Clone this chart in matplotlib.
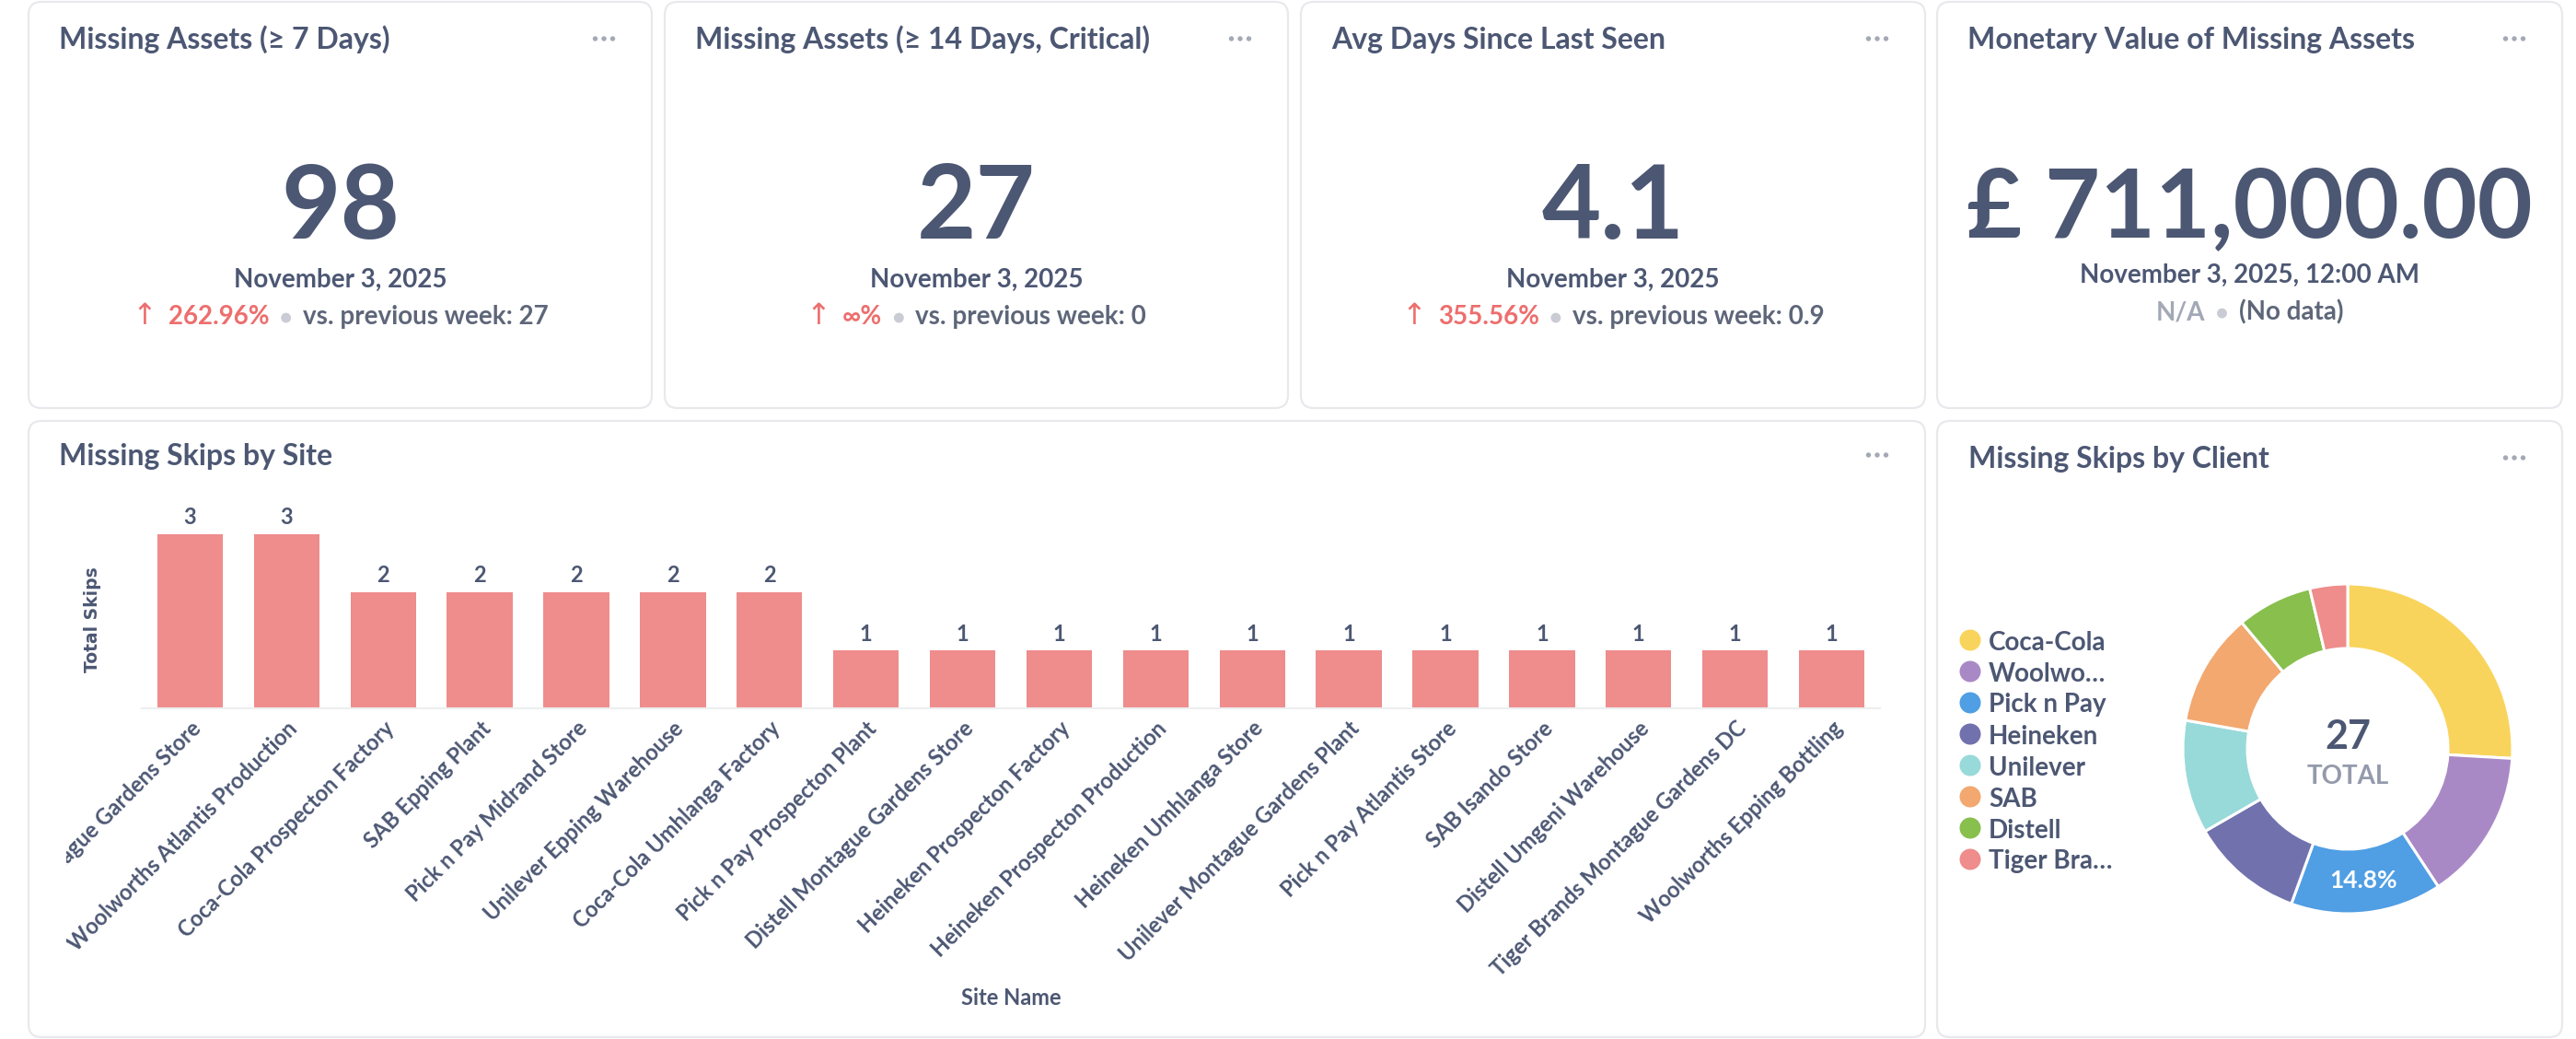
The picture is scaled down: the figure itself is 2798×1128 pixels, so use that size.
import matplotlib
matplotlib.use("Agg")
import matplotlib.pyplot as plt
from matplotlib.patches import FancyBboxPatch, Circle
from matplotlib.offsetbox import TextArea, HPacker, AnnotationBbox, DrawingArea
from matplotlib.transforms import ScaledTranslation, Bbox, TransformedBbox, IdentityTransform
import numpy as np

plt.rcParams['font.family'] = ['Lato', 'DejaVu Sans']

# ---------------- data ----------------
kpi_titles = ["Missing Assets (≥ 7 Days)", "Missing Assets (≥ 14 Days, Critical)",
              "Avg Days Since Last Seen", "Monetary Value of Missing Assets"]
kpi_values = ["98", "27", "4.1", "£ 711,000.00"]
kpi_dates = ["November 3, 2025", "November 3, 2025", "November 3, 2025",
             "November 3, 2025, 12:00 AM"]
kpi_changes = ["262.96%", "∞%", "355.56%", "N/A"]
kpi_previous = ["vs. previous week: 27", "vs. previous week: 0",
                "vs. previous week: 0.9", "(No data)"]

sites = ["Coca-Cola Montague Gardens Store", "Woolworths Atlantis Production",
         "Coca-Cola Prospecton Factory", "SAB Epping Plant", "Pick n Pay Midrand Store",
         "Unilever Epping Warehouse", "Coca-Cola Umhlanga Factory",
         "Pick n Pay Prospecton Plant", "Distell Montague Gardens Store",
         "Heineken Prospecton Factory", "Heineken Prospecton Production",
         "Heineken Umhlanga Store", "Unilever Montague Gardens Plant",
         "Pick n Pay Atlantis Store", "SAB Isando Store", "Distell Umgeni Warehouse",
         "Tiger Brands Montague Gardens DC", "Woolworths Epping Bottling"]
site_skips = [3, 3, 2, 2, 2, 2, 2, 1, 1, 1, 1, 1, 1, 1, 1, 1, 1, 1]

clients = ["Coca-Cola", "Woolworths", "Pick n Pay", "Heineken", "Unilever",
           "SAB", "Distell", "Tiger Brands"]
client_legend = ["Coca-Cola", "Woolwo…", "Pick n Pay", "Heineken", "Unilever",
                 "SAB", "Distell", "Tiger Bra…"]
client_skips = [7, 4, 4, 3, 3, 3, 2, 1]

# ---------------- style ----------------
W, H, DPI = 2798, 1128, 100
DARK = "#4C5773"
MED = "#5E6679"
LIGHT = "#949AAB"
RED = "#ED6E6E"
DOTC = "#C9CCD4"
BORDER = "#E8E9EC"
BAR = "#EF8C8C"
client_colors = ["#F9D45C", "#A989C5", "#509EE3", "#7172AD", "#98D9D9",
                 "#F2A86F", "#88BF4D", "#EF8C8C"]

fig = plt.figure(figsize=(W / DPI, H / DPI), dpi=DPI, facecolor="white")
bg = fig.add_axes([0, 0, 1, 1], zorder=0)
bg.set_xlim(0, W)
bg.set_ylim(H, 0)
bg.axis("off")


def card(x0, y0, x1, y1):
    bg.add_patch(FancyBboxPatch((x0, y0), x1 - x0, y1 - y0,
                                boxstyle="round,pad=0,rounding_size=14",
                                fc="white", ec=BORDER, lw=1.6))


def dots(xr, y):
    for dx in (-9.5, 0, 9.5):
        bg.add_patch(Circle((xr + dx, y), 2.7, color="#A4A9B6", lw=0))


top_left = [31, 722, 1413, 2104]
top_right = [708, 1399, 2091, 2783]
value_sizes = [80, 80, 80, 74.5]
for i in range(4):
    x0, x1 = top_left[i], top_right[i]
    card(x0, 2, x1, 443)
    bg.text(x0 + 33, 53, kpi_titles[i], fontsize=23, fontweight="bold",
            color=DARK, va="baseline", ha="left")
    dots(x1 - 52, 42)
    cx = (x0 + x1) / 2
    bg.text(cx, 257 if i == 3 else 259, kpi_values[i], fontsize=value_sizes[i],
            fontweight="bold", color=DARK, ha="center", va="baseline")
    dy = 307 if i == 3 else 312
    bg.text(cx, dy, kpi_dates[i], fontsize=20, fontweight="bold",
            color=DARK, ha="center", va="baseline")
    cy = 346 if i == 3 else 351
    kids = []
    if i < 3:
        kids.append(TextArea("↑", textprops=dict(color=RED, fontsize=23,
                                                  family=["DejaVu Sans"])))
        kids.append(TextArea(kpi_changes[i], textprops=dict(color=RED, fontsize=20,
                                                             fontweight="bold")))
    else:
        kids.append(TextArea(kpi_changes[i], textprops=dict(color="#A3A8B6", fontsize=20,
                                                             fontweight="bold")))
    da = DrawingArea(8, 9, 0, 0)
    da.add_artist(Circle((4, 5), 3.9, color=DOTC, lw=0))
    kids.append(da)
    kids.append(TextArea(kpi_previous[i], textprops=dict(color=MED, fontsize=20,
                                                          fontweight="bold")))
    hp = HPacker(children=kids, align="baseline", pad=0, sep=9)
    ab = AnnotationBbox(hp, (cx, cy - 7.5), xycoords=bg.transData,
                        box_alignment=(0.5, 0.5), frameon=False, pad=0)
    bg.add_artist(ab)

# bottom cards
card(31, 457, 2091, 1126)
card(2104, 457, 2783, 1126)
bg.text(64, 505, "Missing Skips by Site", fontsize=23, fontweight="bold",
        color=DARK, va="baseline")
dots(2091 - 52, 494)
bg.text(2138, 508, "Missing Skips by Client", fontsize=23, fontweight="bold",
        color=DARK, va="baseline")
dots(2783 - 52, 497)

# ---------------- bar chart ----------------
ax = fig.add_axes([154 / W, (H - 769) / H, 1888 / W, 221 / H], zorder=2)
ax.patch.set_alpha(0)
x = np.arange(len(sites))
bars = ax.bar(x, site_skips, width=0.68, color=BAR, zorder=2)
ax.set_xlim(-0.5, len(sites) - 0.5)
ax.set_ylim(0, 3.5)
for s in ("top", "right", "left"):
    ax.spines[s].set_visible(False)
ax.spines["bottom"].set_color("#EDEEF0")
ax.spines["bottom"].set_linewidth(1.5)
ax.set_yticks([])
ax.set_xticks(x, sites, rotation=45, ha="right", va="center",
              rotation_mode="anchor", fontsize=17, fontweight="bold", color=DARK)
ax.tick_params(axis="x", length=0, pad=13)
clipbox = TransformedBbox(Bbox.from_extents(72, H - 1126, 2091, H - 457), IdentityTransform())
off = ScaledTranslation(8 / DPI, 0, fig.dpi_scale_trans)
for lab in ax.get_xticklabels():
    lab.set_transform(lab.get_transform() + off)
    lab.set_clip_box(clipbox)
    lab.set_clip_on(True)
ax.bar_label(bars, padding=4.5, fontsize=17, fontweight="bold", color=DARK)
ax.set_ylabel("Total Skips", fontsize=13.5, fontweight="bold", color=DARK,
              family=["DejaVu Sans"])
ax.yaxis.set_label_coords((101 - 154) / 1888, (769 - 673) / 221)
ax.set_xlabel("Site Name", fontsize=17, fontweight="bold", color=DARK)
ax.xaxis.set_label_coords(0.5, -(1083 - 769) / 221)
ax.xaxis.label.set_va("center")
ax.yaxis.label.set_va("center")

# ---------------- donut ----------------
cxp, cyp, R = 2550, 813, 179
ax2 = fig.add_axes([(cxp - 200) / W, (H - cyp - 200) / H, 400 / W, 400 / H], zorder=2)
r_out = R / 200
r_in = 109 / 200
wedges, _ = ax2.pie(client_skips, colors=client_colors, startangle=90,
                    counterclock=False, radius=r_out,
                    wedgeprops=dict(width=r_out - r_in, edgecolor="white", linewidth=2.2))
ax2.set_xlim(-1, 1)
ax2.set_ylim(-1, 1)
ax2.set_aspect("equal")
ax2.axis("off")
total = sum(client_skips)
k = clients.index("Pick n Pay")
before = sum(client_skips[:k])
theta = np.deg2rad(90 - (before + client_skips[k] / 2) / total * 360)
rm = (r_out + r_in) / 2
ax2.text(rm * np.cos(theta), rm * np.sin(theta), f"{client_skips[k] / total * 100:.1f}%",
         ha="center", va="center", fontsize=19, fontweight="bold", color="white")
bg.text(cxp, 813, str(total), fontsize=31, fontweight="bold", color=DARK,
        ha="center", va="baseline")
bg.text(cxp, 851, "TOTAL", fontsize=20, fontweight="bold", color=LIGHT,
        ha="center", va="baseline")

for j, (lab, col) in enumerate(zip(client_legend, client_colors)):
    yy = 695 + 34 * j
    bg.add_patch(Circle((2140, yy), 11.5, color=col, lw=0))
    bg.text(2160, yy + 10.5, lab, fontsize=20, fontweight="bold", color=DARK,
            va="baseline", ha="left")

fig.savefig("out.png", dpi=DPI, facecolor="white")
